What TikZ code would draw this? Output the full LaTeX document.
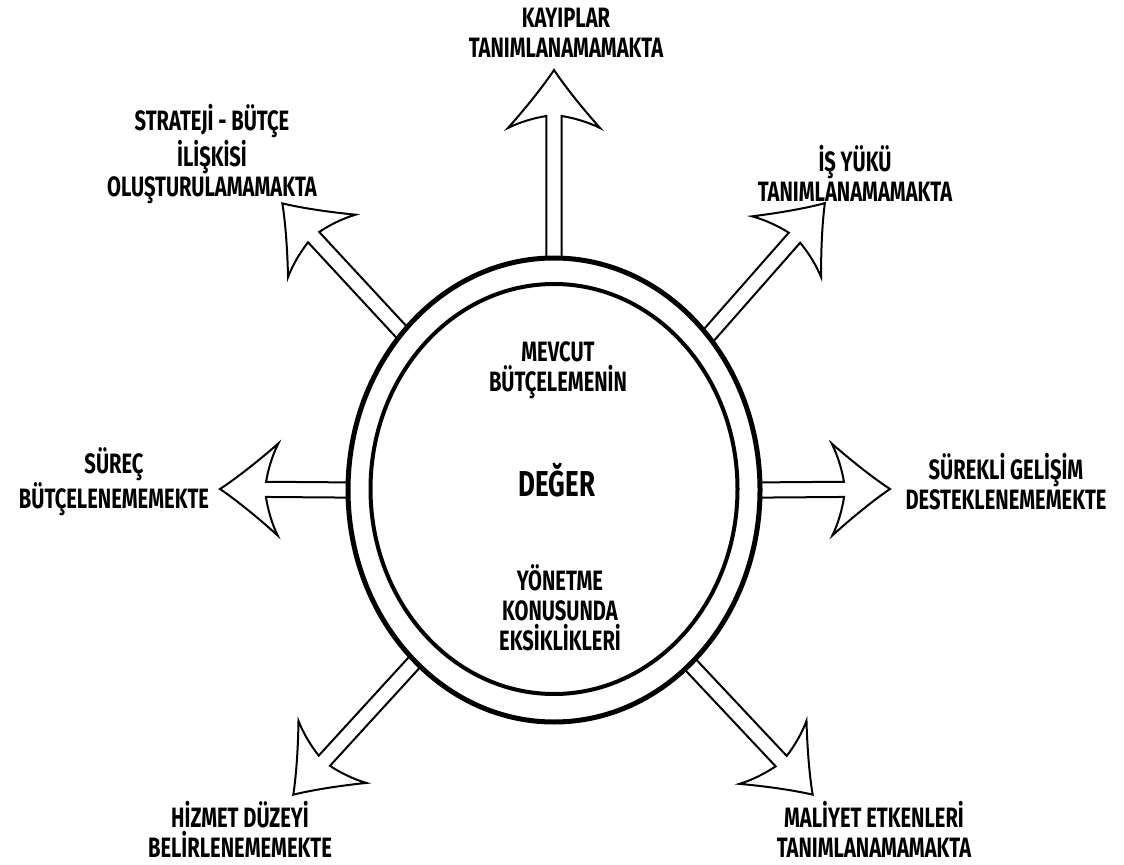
\documentclass[tikz,border=0pt]{standalone}
\usepackage{fontspec}
\setmainfont{Fira Sans}[FakeStretch=0.72]
\usetikzlibrary{shapes.geometric,calc}

\newcommand\hollowarrow[2]{%
  \path let \p1=(#1), \p2=(#2) in
    \pgfextra{\pgfmathsetmacro\harang{atan2(\y2-\y1,\x2-\x1)}%
      \pgfmathsetmacro\harlen{veclen(\x2-\x1,\y2-\y1)}%
      \global\let\harang\harang\global\let\harlen\harlen};
  \begin{scope}[shift={(#1)},rotate=\harang]
    \draw[okcizgi] (0pt,-3.8pt) -- ({\harlen pt-23pt},-3.8pt)
      .. controls ({\harlen pt-24pt},-10pt) and ({\harlen pt-26pt},-17pt) .. ({\harlen pt-29pt},-23pt)
      .. controls ({\harlen pt-20pt},-15pt) and ({\harlen pt-9pt},-6pt) .. ({\harlen pt},0pt)
      .. controls ({\harlen pt-9pt},6pt) and ({\harlen pt-20pt},15pt) .. ({\harlen pt-29pt},23pt)
      .. controls ({\harlen pt-26pt},17pt) and ({\harlen pt-24pt},10pt) .. ({\harlen pt-23pt},3.8pt)
      -- (0pt,3.8pt);
  \end{scope}}

\begin{document}
\begin{tikzpicture}[x=0.5pt,y=0.5pt,
    etiket/.style={font=\fontsize{14}{15}\selectfont\bfseries,align=center,inner sep=0pt},
    halka/.style={draw,ellipse,inner sep=0pt,outer sep=0pt},
    okcizgi/.style={line width=1pt,line join=miter}]
\useasboundingbox (0,0) rectangle (1124,864);

\node[halka,line width=2.5pt,minimum width=206pt,minimum height=232pt] (dis) at (554,374) {};
\node[halka,line width=2pt,minimum width=183.5pt,minimum height=205pt] (ic) at (554,375) {};

\node[etiket] (mevcut) at (558,494) {MEVCUT\\BÜTÇELEMENİN};
\node[etiket,font=\fontsize{18}{20}\selectfont\bfseries] (deger) at (557,384) {DEĞER};
\node[etiket] (yonetme) at (560,256) {YÖNETME\\KONUSUNDA\\EKSİKLİKLERİ};

\node[etiket] (kayip) at (566,831) {KAYIPLAR\\TANIMLANAMAMAKTA};
\node[etiket] (strateji) at (212,710) {STRATEJİ - BÜTÇE\\İLİŞKİSİ\\OLUŞTURULAMAMAKTA};
\node[etiket] (isyuku) at (855,691) {İŞ YÜKÜ\\TANIMLANAMAMAKTA};
\node[etiket] (surec) at (114,382) {SÜREÇ\\BÜTÇELENEMEMEKTE};
\node[etiket] (surekli) at (1006,382) {SÜREKLİ GELİŞİM\\DESTEKLENEMEMEKTE};
\node[etiket] (hizmet) at (240,35) {HİZMET DÜZEYİ\\BELİRLENEMEMEKTE};
\node[etiket] (maliyet) at (874,35) {MALİYET ETKENLERİ\\TANIMLANAMAMAKTA};

\coordinate (kayipUc) at (554,794);
\coordinate (stratejiUc) at (282,661);
\coordinate (isyukuUc) at (825,661);
\coordinate (surecUc) at (220,375);
\coordinate (surekliUc) at (890,375);
\coordinate (hizmetUc) at (293,69);
\coordinate (maliyetUc) at (813,69);

\hollowarrow{dis.90}{kayipUc}
\hollowarrow{dis.134.6}{stratejiUc}
\hollowarrow{dis.45.4}{isyukuUc}
\hollowarrow{dis.180}{surecUc}
\hollowarrow{dis.0}{surekliUc}
\hollowarrow{dis.231.6}{hizmetUc}
\hollowarrow{dis.308.4}{maliyetUc}
\end{tikzpicture}
\end{document}
